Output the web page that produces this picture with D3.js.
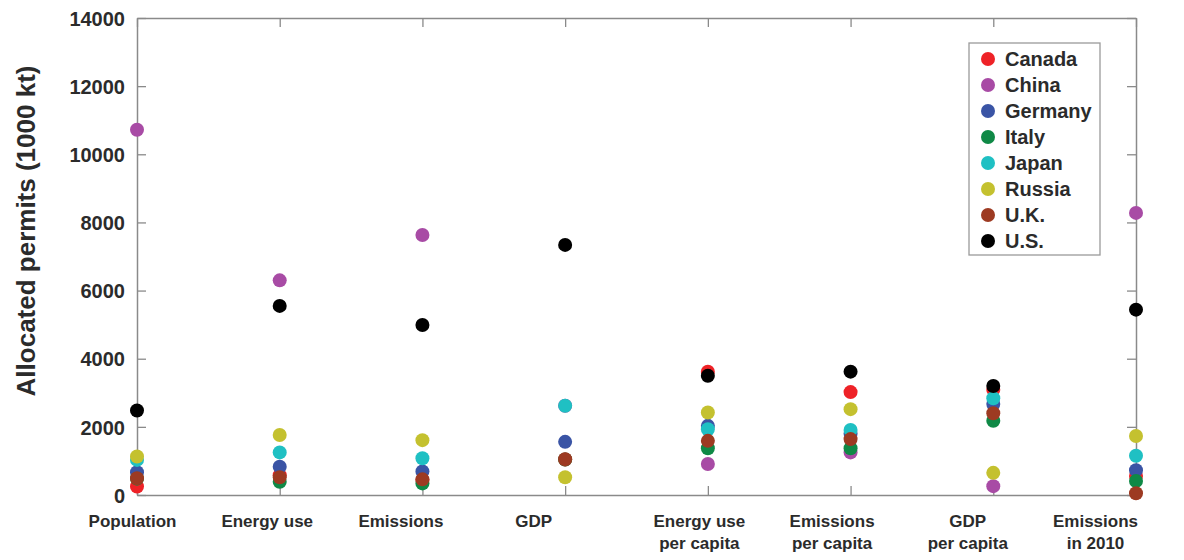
<!DOCTYPE html>
<html>
<head>
<meta charset="utf-8">
<script src="https://cdn.jsdelivr.net/npm/d3@7"></script>
<style>
  body { margin: 0; background: #fff; }
  svg text { font-family: "Liberation Sans", Arial, sans-serif; font-weight: bold; fill: #2b2b2b; }
</style>
</head>
<body>
<svg id="chart" width="1184" height="560"></svg>
<script>
// categories along the x axis (multi-line labels split on |)
var categories = ['Population', 'Energy use', 'Emissions', 'GDP',
  'Energy use|per capita', 'Emissions|per capita', 'GDP|per capita', 'Emissions|in 2010'];

var yTicks = [0, 2000, 4000, 6000, 8000, 10000, 12000, 14000];

var countries = ['Canada', 'China', 'Germany', 'Italy', 'Japan', 'Russia', 'U.K.', 'U.S.'];
var colors = ['#ee2227', '#a84ba5', '#3a54a5', '#0f8946', '#1fc0c3', '#c4c12f', '#9d3a22', '#000000'];

// allocated permits (1000 kt), one value per category
var canada  = [250, 580, 440, 1040, 3620, 3020, 3090, 560];
var china   = [10720, 6300, 7630, 2620, 910, 1250, 260, 8280];
var germany = [670, 830, 690, 1560, 2030, 1800, 2670, 730];
var italy   = [480, 390, 340, 1040, 1370, 1370, 2180, 410];
var japan   = [1030, 1250, 1080, 2620, 1930, 1910, 2840, 1150];
var russia  = [1130, 1760, 1610, 520, 2420, 2520, 650, 1730];
var uk      = [490, 520, 460, 1050, 1590, 1640, 2400, 50];
var us      = [2480, 5550, 4990, 7340, 3500, 3620, 3200, 5440];

var series = [canada, china, germany, italy, japan, russia, uk, us];

var svg = d3.select('#chart');

var margin = { left: 137, right: 48, top: 18, bottom: 65 },
    width = 1184 - margin.left - margin.right,
    height = 560 - margin.top - margin.bottom;

var g = svg.append('g')
  .attr('transform', 'translate(' + margin.left + ',' + margin.top + ')');

var x = d3.scalePoint()
  .domain(categories)
  .range([0, width]);

var y = d3.scaleLinear()
  .domain([0, 14000])
  .range([height, 0]);

var axisColor = '#8a8a8a',
    tickLen = 9;

// frame with inward ticks on all four sides
function styleAxis(sel) {
  sel.select('.domain').attr('stroke', axisColor).attr('stroke-width', 1.5);
  sel.selectAll('.tick line').attr('stroke', axisColor).attr('stroke-width', 1.3);
}

g.append('g')
  .call(d3.axisLeft(y).tickValues(yTicks).tickSize(-tickLen).tickSizeOuter(0)
    .tickPadding(12).tickFormat(d3.format('d')))
  .call(styleAxis)
  .call(function(a) {
    a.selectAll('.tick text').attr('font-size', 20).attr('dy', '0.36em');
  });

g.append('g')
  .attr('transform', 'translate(' + width + ',0)')
  .call(d3.axisRight(y).tickValues(yTicks).tickSize(-tickLen).tickSizeOuter(0).tickFormat(''))
  .call(styleAxis);

g.append('g')
  .call(d3.axisTop(x).tickSize(-tickLen).tickSizeOuter(0).tickFormat(''))
  .call(styleAxis);

// label offsets as placed in the original figure
var labelShift = [-5, -13, -22, -32, -9, -19, -26, -41];

var xAxis = g.append('g')
  .attr('transform', 'translate(0,' + height + ')')
  .call(d3.axisBottom(x).tickSize(-tickLen).tickSizeOuter(0).tickFormat(''))
  .call(styleAxis);

xAxis.selectAll('.tick').each(function(d, i) {
  var t = d3.select(this).append('text')
    .attr('x', labelShift[i])
    .attr('y', 32)
    .attr('text-anchor', 'middle')
    .attr('font-size', 17);
  d.split('|').forEach(function(line, j) {
    t.append('tspan')
      .attr('x', labelShift[i])
      .attr('dy', j === 0 ? 0 : 22)
      .text(line);
  });
});

// y axis title
svg.append('text')
  .attr('transform', 'translate(35,231) rotate(-90)')
  .attr('text-anchor', 'middle')
  .attr('font-size', 26)
  .text('Allocated permits (1000 kt)');

// points, drawn country by country so later ones sit on top
var pointData = [];
series.forEach(function(vals, ci) {
  vals.forEach(function(v, k) {
    pointData.push({ country: ci, category: categories[k], value: v });
  });
});

g.selectAll('circle.point')
  .data(pointData)
  .enter()
  .append('circle')
  .attr('class', 'point')
  .attr('cx', function(d) { return x(d.category); })
  .attr('cy', function(d) { return y(d.value); })
  .attr('r', 7)
  .attr('fill', function(d) { return colors[d.country]; });

// legend
var legend = svg.append('g')
  .attr('transform', 'translate(969,43)');

legend.append('rect')
  .attr('width', 131)
  .attr('height', 212)
  .attr('fill', '#fff')
  .attr('stroke', '#9a9a9a')
  .attr('stroke-width', 1.3);

var rowY = d3.scalePoint()
  .domain(countries)
  .range([16, 198]);

var rows = legend.selectAll('g.row')
  .data(countries)
  .enter()
  .append('g')
  .attr('class', 'row')
  .attr('transform', function(d) { return 'translate(0,' + rowY(d) + ')'; });

rows.append('circle')
  .attr('cx', 19)
  .attr('r', 7)
  .attr('fill', function(d, i) { return colors[i]; });

rows.append('text')
  .attr('x', 36)
  .attr('dy', '0.36em')
  .attr('font-size', 20)
  .text(function(d) { return d; });
</script>
</body>
</html>
